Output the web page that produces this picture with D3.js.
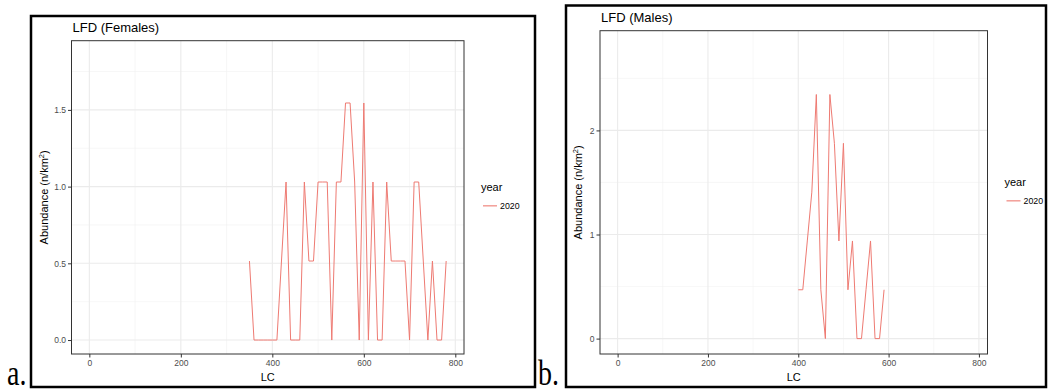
<!DOCTYPE html>
<html>
<head>
<meta charset="utf-8">
<script src="https://cdn.jsdelivr.net/npm/d3@7"></script>
<style>
  html, body { margin: 0; padding: 0; background: #fff; }
  svg { display: block; }
  text { font-family: "Liberation Sans", Arial, sans-serif; }
  text.letter { font-family: "Liberation Serif", "DejaVu Serif", "Times New Roman", serif; }
</style>
</head>
<body>
<svg id="chart" width="1048" height="390"></svg>
<script>
// ---- Data ----
const lcFemales = [350,360,370,380,390,400,410,420,430,440,450,460,470,480,490,500,510,520,530,540,550,560,570,580,590,600,610,620,630,640,650,660,670,680,690,700,710,720,730,740,750,760,770,780];
const abundanceFemales = [0.515,0,0,0,0,0,0,0.515,1.03,0,0,0,1.03,0.515,0.515,1.03,1.03,1.03,0,1.03,1.03,1.545,1.545,1.03,0,1.545,0,1.03,0,0,1.03,0.515,0.515,0.515,0.515,0,1.03,1.03,0.515,0,0.515,0,0,0.515];

const lcMales = [400,410,420,430,440,450,460,470,480,490,500,510,520,530,540,550,560,570,580,590];
const abundanceMales = [0.469,0.469,0.938,1.407,2.345,0.469,0,2.345,1.876,0.938,1.876,0.469,0.938,0,0,0.469,0.938,0,0,0.469];

const xTicks = [0, 200, 400, 600, 800];
const xMinor = [100, 300, 500, 700];
const yTicksFemales = [0, 0.5, 1.0, 1.5];
const yMinorFemales = [0.25, 0.75, 1.25, 1.75];
const yTicksMales = [0, 1, 2];
const yMinorMales = [0.5, 1.5, 2.5];
const seriesName = "2020";
const legendTitle = "year";

const svg = d3.select("#chart");
const lineColor = "#EE7A72";

function drawPanel(o) {
  // outer black frame
  svg.append("rect")
    .attr("x", o.frame[0]).attr("y", o.frame[1])
    .attr("width", o.frame[2] - o.frame[0]).attr("height", o.frame[3] - o.frame[1])
    .attr("fill", "none").attr("stroke", "#000").attr("stroke-width", 2.5);

  const x = d3.scaleLinear().domain([-39, 819]).range([o.plot[0], o.plot[1]]);
  const y = d3.scaleLinear().domain(o.yDomain).range([o.plot[3], o.plot[2]]);
  const g = svg.append("g");

  // minor grid
  g.selectAll(null).data(o.xMinor).enter().append("line")
    .attr("x1", d => x(d)).attr("x2", d => x(d))
    .attr("y1", o.plot[2]).attr("y2", o.plot[3])
    .attr("stroke", "#F2F2F2").attr("stroke-width", 0.6);
  g.selectAll(null).data(o.yMinor).enter().append("line")
    .attr("y1", d => y(d)).attr("y2", d => y(d))
    .attr("x1", o.plot[0]).attr("x2", o.plot[1])
    .attr("stroke", "#F2F2F2").attr("stroke-width", 0.6);
  // major grid
  g.selectAll(null).data(o.xTicks).enter().append("line")
    .attr("x1", d => x(d)).attr("x2", d => x(d))
    .attr("y1", o.plot[2]).attr("y2", o.plot[3])
    .attr("stroke", "#EBEBEB").attr("stroke-width", 1.1);
  g.selectAll(null).data(o.yTicks).enter().append("line")
    .attr("y1", d => y(d)).attr("y2", d => y(d))
    .attr("x1", o.plot[0]).attr("x2", o.plot[1])
    .attr("stroke", "#EBEBEB").attr("stroke-width", 1.1);

  // data line
  const data = o.lc.map((d, i) => [d, o.ab[i]]);
  g.append("path").datum(data)
    .attr("d", d3.line().x(d => x(d[0])).y(d => y(d[1])))
    .attr("fill", "none").attr("stroke", lineColor).attr("stroke-width", 1)
    .attr("stroke-linejoin", "miter");

  // panel border
  g.append("rect")
    .attr("x", o.plot[0]).attr("y", o.plot[2])
    .attr("width", o.plot[1] - o.plot[0]).attr("height", o.plot[3] - o.plot[2])
    .attr("fill", "none").attr("stroke", "#333333").attr("stroke-width", 1);

  // axes
  const xAxis = d3.axisBottom(x).tickValues(o.xTicks).tickSize(3.5).tickPadding(2).tickFormat(d3.format("d"));
  const ax = svg.append("g").attr("transform", `translate(0,${o.plot[3]})`).call(xAxis);
  ax.select(".domain").remove();
  ax.selectAll("line").attr("stroke", "#333333");
  ax.selectAll("text").attr("fill", "#4D4D4D").style("font-size", "8.5px")
    .style("font-family", "'Liberation Sans', Arial, sans-serif");

  const yAxis = d3.axisLeft(y).tickValues(o.yTicks).tickSize(3.5).tickPadding(2).tickFormat(d3.format(o.yFmt));
  const ay = svg.append("g").attr("transform", `translate(${o.plot[0]},0)`).call(yAxis);
  ay.select(".domain").remove();
  ay.selectAll("line").attr("stroke", "#333333");
  ay.selectAll("text").attr("fill", "#4D4D4D").style("font-size", "8.5px")
    .style("font-family", "'Liberation Sans', Arial, sans-serif");

  // titles
  svg.append("text").attr("x", o.plot[0] + 1).attr("y", o.titleY)
    .attr("font-size", 13).attr("fill", "#000").text(o.title);
  svg.append("text").attr("x", (o.plot[0] + o.plot[1]) / 2).attr("y", o.plot[3] + 27)
    .attr("text-anchor", "middle").attr("font-size", 11).attr("fill", "#000").text("LC");
  const yt = svg.append("text")
    .attr("transform", `translate(${o.yTitleX},${(o.plot[2] + o.plot[3]) / 2}) rotate(-90)`)
    .attr("text-anchor", "middle").attr("font-size", 11).attr("fill", "#000");
  yt.append("tspan").text("Abundance (n/km");
  yt.append("tspan").attr("font-size", 7.5).attr("dy", -4).text("2");
  yt.append("tspan").attr("dy", 4).text(")");

  // legend
  const lx = o.plot[1] + 17;
  const ly = (o.plot[2] + o.plot[3]) / 2;
  svg.append("text").attr("x", lx).attr("y", ly - 6).attr("font-size", 11).attr("fill", "#000").text(legendTitle);
  svg.append("line").attr("x1", lx + 2).attr("x2", lx + 16)
    .attr("y1", ly + 8.5).attr("y2", ly + 8.5)
    .attr("stroke", lineColor).attr("stroke-width", 1.1);
  svg.append("text").attr("x", lx + 19).attr("y", ly + 11.5).attr("font-size", 8.8).attr("fill", "#000").text(seriesName);

  // panel letter
  svg.append("text").attr("class", "letter")
    .attr("transform", `translate(${o.letterX},385) scale(1,1.3)`)
    .attr("font-size", 28).attr("fill", "#000").text(o.letter);
}

drawPanel({
  frame: [31, 16, 535, 387],
  plot: [71.5, 464, 40.7, 354],
  yDomain: [-0.091, 1.951],
  lc: lcFemales, ab: abundanceFemales,
  xTicks, xMinor, yTicks: yTicksFemales, yMinor: yMinorFemales, yFmt: ".1f",
  title: "LFD (Females)", titleY: 32, yTitleX: 48, letter: "a.", letterX: 7
});

drawPanel({
  frame: [566, 5.5, 1046, 387],
  plot: [600, 987.5, 30.7, 354],
  yDomain: [-0.148, 2.958],
  lc: lcMales, ab: abundanceMales,
  xTicks, xMinor, yTicks: yTicksMales, yMinor: yMinorMales, yFmt: "d",
  title: "LFD (Males)", titleY: 22, yTitleX: 582, letter: "b.", letterX: 538
});
</script>
</body>
</html>
